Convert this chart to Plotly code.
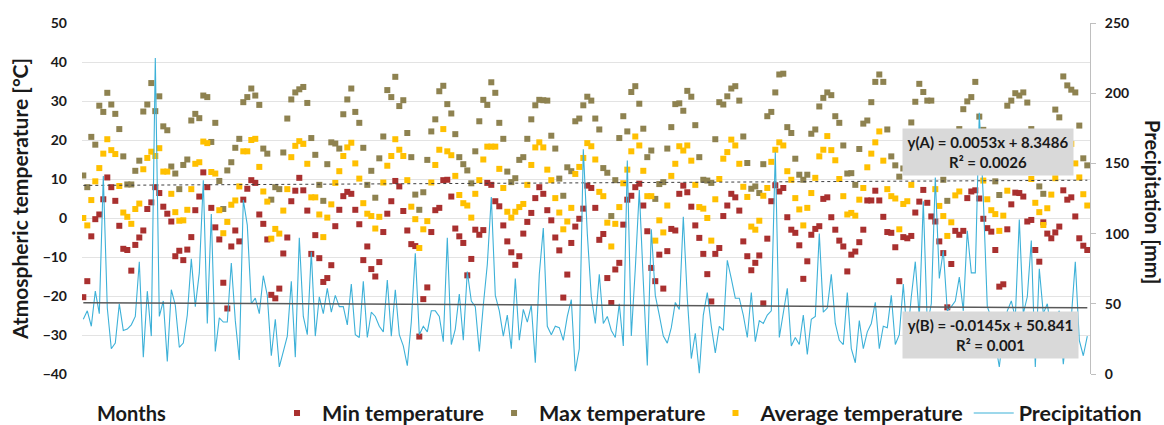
import plotly.graph_objects as go

# ---------------- data ----------------
months = list(range(1, 253))  # 21 years of monthly records

min_temp = [
    -20.3, -16.2, -4.7, -0.3, 0.9, 4.8, 10.4, 7.9, 4.4, -2.0, -7.9, -8.2,
    -13.5, -6.9, -5.0, -3.2, 2.3, 4.0, 7.9, 6.4, 2.9, 1.1, -0.9, -9.8,
    -8.4, -10.8, -8.1, -4.9, 2.0, 5.5, 11.7, 7.9, 2.6, -2.4, -5.5, -16.6,
    -23.2, -7.3, -3.2, -6.0, 4.7, 7.5, 9.7, 9.0, 0.9, -1.5, -5.5, -19.7,
    -20.6, -18.1, -9.1, -5.0, 4.3, 7.0, 10.3, 7.1, 1.9, -9.2, -4.4, -10.3,
    -16.4, -15.4, -12.1, -2.1, 2.1, 5.6, 6.7, 6.2, 2.1, -1.6, -10.8, -7.3,
    -13.1, -15.0, -11.3, -3.6, 1.1, 4.3, 9.5, 8.1, 1.8, -3.2, -6.7, -7.2,
    -30.4, -20.8, -17.8, -3.6, 2.0, 2.6, 9.7, 9.8, 5.5, -2.7, -4.7, -6.4,
    -14.7, -10.5, -3.0, -4.3, -3.1, 9.0, 8.5, 4.3, 3.0, -1.9, -6.0, -8.8,
    -12.0, -9.8, -4.0, -1.0, 1.3, 5.1, 7.9, 6.2, 2.0, -0.6, -5.0, -8.3,
    -20.4, -14.5, -6.4, -2.2, -0.2, 2.4, 8.3, 7.7, 2.6, -5.6, -4.1, -15.4,
    -21.8, -13.2, -11.5, -1.7, 4.7, 5.7, 7.9, 8.8, 3.2, -3.4, -12.8, -16.2,
    -9.4, -18.1, -8.5, -2.8, -3.2, 6.2, 8.3, 6.6, 2.9, -1.9, -5.1, -9.2,
    -14.4, -21.4, -9.2, -7.7, 0.5, 3.2, 6.2, 5.3, 1.9, -6.0, -9.8, -13.4,
    -11.5, -9.6, -21.9, -5.3, 4.3, 8.4, 6.8, 7.7, 0.2, -3.0, -3.8, -7.0,
    -15.6, -11.1, -4.3, -2.8, -2.1, 4.9, 5.3, 0.2, -3.0, -5.8, -7.3, -13.7,
    -9.4, -8.6, -6.2, -3.0, 4.5, 4.5, 7.0, 4.5, 0.3, -3.6, -3.8, -7.5,
    -16.2, -4.9, -5.2, -4.6, 1.4, 4.2, 7.2, 3.9, 0.4, -0.9, -6.0, -9.0,
    -22.9, -11.8, -3.3, -4.3, -3.3, 5.1, 6.8, 7.1, 5.0, -0.2, -2.6, -3.5,
    -8.2, -17.6, -17.0, -2.9, 3.5, 6.5, 6.4, 5.5, -0.9, -0.5, -8.2, -11.2,
    -1.1, -4.0, -5.2, -3.7, -2.2, 7.1, 4.7, 5.3, 0.4, -5.2, -7.1, -8.2,
]

max_temp = [
    10.9, 7.9, 20.8, 18.8, 28.8, 27.2, 32.1, 29.1, 26.7, 22.8, 15.8, 8.6,
    8.6, 12.1, 14.7, 27.3, 29.1, 34.6, 27.4, 31.2, 23.5, 22.5, 13.2, 11.4,
    7.4, 13.6, 15.0, 25.0, 26.7, 25.6, 31.4, 31.0, 19.5, 24.4, 9.5, 2.3,
    12.2, 14.3, 18.0, 20.3, 29.7, 31.0, 33.2, 31.4, 29.0, 17.8, 16.5, 4.7,
    7.9, 7.4, 16.8, 25.5, 30.4, 32.2, 33.0, 33.6, 29.5, 20.5, 16.2, 8.5,
    4.4, 13.8, 19.4, 19.1, 17.8, 26.6, 30.4, 33.2, 27.2, 24.4, 18.0, 8.5,
    12.1, 5.2, 15.3, 20.9, 32.8, 31.0, 36.2, 28.7, 30.2, 21.8, 15.6, 6.0,
    2.1, 6.6, 14.9, 22.2, 25.3, 32.5, 33.9, 29.2, 26.8, 21.5, 15.6, 13.8,
    12.2, 8.9, 17.1, 24.8, 30.3, 29.0, 34.8, 32.1, 24.4, 20.3, 11.9, 9.2,
    10.2, 14.9, 15.6, 20.3, 25.3, 28.9, 30.3, 30.2, 30.1, 21.1, 17.8, 10.1,
    5.7, 13.0, 12.0, 24.8, 25.5, 28.9, 31.1, 30.1, 25.5, 22.7, 12.8, 11.6,
    0.5, 9.7, 20.5, 26.1, 22.2, 32.3, 33.8, 29.3, 22.9, 15.6, 17.3, 4.9,
    8.7, 9.2, 17.8, 23.3, 29.2, 29.4, 27.5, 32.6, 31.1, 23.8, 15.6, 9.8,
    9.6, 9.0, 20.2, 29.7, 29.1, 31.2, 33.2, 33.8, 30.1, 20.9, 14.1, 7.5,
    8.1, 6.4, 13.8, 26.1, 27.2, 32.2, 36.8, 37.0, 23.3, 21.8, 15.2, 11.1,
    9.8, 11.1, 21.6, 22.7, 28.6, 30.8, 32.2, 31.5, 26.1, 24.4, 18.6, 11.4,
    11.5, 8.5, 17.7, 24.2, 25.0, 29.7, 34.9, 36.8, 34.9, 22.7, 15.8, 13.5,
    10.6, 12.7, 18.0, 24.5, 29.8, 34.4, 32.3, 30.1, 30.1, 20.0, 15.0, 9.8,
    4.4, 12.0, 17.0, 22.8, 27.9, 29.9, 31.0, 34.9, 26.0, 22.6, 18.0, 14.0,
    9.4, 5.9, 18.0, 28.8, 30.1, 32.0, 31.4, 32.2, 29.6, 22.8, 17.0, 8.1,
    6.2, 14.0, 19.0, 27.8, 25.8, 36.3, 34.0, 32.9, 32.2, 23.7, 15.3, 13.5,
]

avg_temp = [
    0.0, -1.9, 4.6, 9.4, 12.8, 16.5, 20.2, 17.4, 16.4, 8.2, 1.4, 0.3,
    -1.5, 2.3, 3.7, 12.5, 15.4, 17.0, 15.9, 17.9, 11.9, 11.9, 6.2, 1.5,
    -0.7, -0.6, 2.1, 7.4, 13.9, 14.3, 19.6, 19.2, 11.8, 11.4, 2.0, -3.9,
    -1.0, 3.4, 4.5, 8.1, 17.1, 17.1, 20.0, 20.3, 13.1, 6.8, 4.2, -5.3,
    -2.8, -4.0, 1.9, 7.4, 15.6, 18.5, 19.7, 19.0, 13.9, 5.3, 5.3, 0.9,
    -4.9, 0.1, 3.5, 9.0, 12.0, 15.9, 18.1, 19.3, 14.0, 10.1, 3.8, 1.1,
    0.5, -2.7, 0.3, 9.1, 13.4, 15.9, 20.2, 17.5, 15.9, 9.7, 2.9, -0.3,
    -7.7, -2.9, -0.8, 9.1, 13.6, 17.5, 22.8, 17.1, 16.1, 10.8, 5.9, 3.8,
    3.2, 0.1, 6.2, 9.7, 15.0, 18.3, 18.3, 18.3, 12.6, 7.7, 1.6, 0.1,
    1.6, 2.8, 3.6, 8.5, 13.6, 18.1, 19.4, 18.1, 12.4, 9.7, 5.1, 1.4,
    -2.9, -0.9, 2.6, 11.3, 13.1, 15.4, 19.2, 18.4, 15.0, 6.7, 5.6, -1.2,
    -7.3, -1.5, 2.8, 8.9, 12.4, 17.1, 20.9, 18.6, 12.1, 5.6, 5.6, -5.8,
    -0.6, -3.7, 3.2, 10.8, 13.9, 18.4, 17.3, 18.6, 14.7, 8.5, 2.8, 2.4,
    0.0, -5.8, 4.8, 10.0, 15.2, 16.9, 20.1, 18.6, 13.9, 8.0, 5.4, -2.2,
    -3.0, -0.7, 5.7, 7.7, 14.4, 17.5, 19.4, 18.6, 12.0, 9.8, 5.1, 2.2,
    -1.9, 2.6, 6.4, 10.3, 15.8, 17.5, 21.0, 17.4, 14.8, 10.0, 5.6, 0.9,
    1.3, 0.6, 4.7, 7.7, 13.0, 16.5, 19.4, 22.2, 14.7, 7.4, 5.6, 5.0,
    -2.9, 3.6, 4.3, 8.5, 13.0, 17.0, 19.0, 18.0, 14.0, 7.4, 3.1, 0.5,
    -4.6, -1.1, 5.8, 6.8, 13.0, 16.0, 19.0, 18.0, 15.0, 9.6, 4.8, 2.0,
    1.0, -3.3, 0.6, 7.0, 12.0, 15.0, 18.0, 17.0, 14.0, 10.0, 3.9, 1.5,
    -1.8, 2.5, 6.0, 10.2, 14.0, 20.0, 22.0, 19.0, 14.0, 10.4, 6.1, 3.2,
]

precip = [
    39, 45, 34, 59, 43, 141, 47, 18, 22, 50, 31, 32,
    35, 41, 80, 12, 59, 27, 225, 41, 52, 9, 60, 49,
    19, 22, 42, 82, 48, 72, 138, 36, 114, 16, 40, 37,
    37, 79, 38, 10, 124, 106, 50, 54, 43, 70, 56, 13,
    39, 5, 16, 27, 66, 12, 97, 41, 28, 87, 27, 55,
    43, 61, 44, 56, 48, 48, 35, 64, 28, 26, 66, 26,
    44, 41, 34, 30, 67, 27, 60, 28, 20, 6, 37, 86,
    28, 34, 30, 45, 45, 41, 23, 97, 21, 32, 57, 24,
    73, 52, 48, 16, 49, 78, 126, 56, 45, 27, 42, 18,
    68, 24, 46, 37, 49, 8, 71, 104, 34, 28, 34, 33,
    24, 41, 53, 2, 18, 160, 100, 55, 36, 71, 36, 41,
    31, 26, 50, 20, 152, 27, 75, 131, 66, 6, 103, 56,
    42, 27, 22, 33, 51, 46, 112, 54, 11, 29, 0.5, 42,
    58, 34, 15, 34, 31, 81, 68, 54, 54, 42, 26, 58,
    23, 38, 36, 42, 45, 158, 26, 42, 61, 20, 26, 21,
    42, 14, 39, 41, 100, 44, 47, 71, 36, 24, 21, 58,
    18, 8, 38, 18, 30, 36, 51, 18, 34, 33, 56, 21,
    28, 64, 25, 55, 80, 40, 123, 35, 50, 140, 68, 88,
    45, 48, 52, 69, 45, 102, 72, 72, 186, 125, 48, 40,
    24, 5, 30, 45, 52, 40, 110, 43, 55, 95, 5, 75,
    43, 50, 30, 40, 45, 7, 35, 40, 80, 24, 13, 27,
]

# linear trend lines as printed on the chart (slope, intercept)
trend_a_slope, trend_a_intercept = 0.0053, 8.3486
trend_b_slope, trend_b_intercept = -0.0145, 50.841
trend_a_label = "y(A) = 0.0053x + 8.3486<br>R² = 0.0026"
trend_b_label = "y(B) = -0.0145x + 50.841<br>R² = 0.001"

temp_range = [-40, 50]
precip_range = [0, 250]

# ---------------- figure ----------------
FONT = "Lato, 'Open Sans', Arial, sans-serif"
TXT = "#1a1a1a"

fig = go.Figure()

fig.add_trace(go.Scatter(
    x=months, y=min_temp, mode="markers", name="Min temperature",
    marker=dict(symbol="square", size=6, color="#A9302F", line=dict(width=0)),
    hoverinfo="skip"))
fig.add_trace(go.Scatter(
    x=months, y=max_temp, mode="markers", name="Max temperature",
    marker=dict(symbol="square", size=6, color="#8E8250", line=dict(width=0)),
    hoverinfo="skip"))
fig.add_trace(go.Scatter(
    x=months, y=avg_temp, mode="markers", name="Average temperature",
    marker=dict(symbol="square", size=6, color="#FFC000", line=dict(width=0)),
    hoverinfo="skip"))

x_ends = [months[0], months[-1]]
fig.add_trace(go.Scatter(
    x=x_ends, y=[trend_a_slope * x + trend_a_intercept for x in x_ends],
    mode="lines", line=dict(color="#404040", width=1, dash="dot"),
    showlegend=False, hoverinfo="skip"))

fig.add_trace(go.Scatter(
    x=months, y=precip, mode="lines", name="Precipitation", yaxis="y2",
    line=dict(color="#3DB1D8", width=1.1), hoverinfo="skip"))
fig.add_trace(go.Scatter(
    x=x_ends, y=[trend_b_slope * x + trend_b_intercept for x in x_ends],
    mode="lines", yaxis="y2", line=dict(color="#595959", width=1.5),
    showlegend=False, hoverinfo="skip"))

fig.update_layout(
    width=1164, height=425,
    margin=dict(l=82, r=74, t=23, b=51, autoexpand=False),
    paper_bgcolor="white", plot_bgcolor="white",
    font=dict(family=FONT, color=TXT),
    xaxis=dict(range=[0.675, 252.675], showgrid=False, zeroline=False,
               showline=False, showticklabels=False, ticks="", automargin=False),
    yaxis=dict(range=temp_range, dtick=10, showgrid=True, gridcolor="#E3E3E3",
               gridwidth=1, zeroline=False, showline=False, ticks="",
               ticklabelstandoff=14, automargin=False,
               tickfont=dict(family=FONT, size=14, color=TXT, weight="bold"),
               title=dict(text="Atmospheric temperature [°C]", standoff=8,
                          font=dict(family=FONT, size=21, color=TXT, weight="bold"))),
    yaxis2=dict(range=precip_range, dtick=50, overlaying="y", side="right",
                showgrid=False, zeroline=False, showline=True, linecolor="#BFBFBF",
                linewidth=1, ticks="outside", ticklen=5, tickcolor="#BFBFBF",
                ticklabelstandoff=6, automargin=False,
                tickfont=dict(family=FONT, size=14, color=TXT, weight="bold")),
    legend=dict(orientation="h", x=0.1885, xanchor="left", y=-0.111, yanchor="middle",
                itemwidth=40,
                font=dict(family=FONT, size=21.5, color=TXT, weight="bold"),
                bgcolor="rgba(0,0,0,0)", traceorder="normal"),
    showlegend=True,
)

fig.add_annotation(
    text="Precipitation [mm]", xref="paper", yref="paper",
    x=1.0625, y=0.49, xanchor="center", yanchor="middle", textangle=90,
    showarrow=False, font=dict(family=FONT, size=20, color=TXT, weight="bold"))

fig.add_annotation(
    text="Months", xref="paper", yref="paper", x=0.0125, y=-0.111,
    xanchor="left", yanchor="middle", showarrow=False,
    font=dict(family=FONT, size=20, color=TXT, weight="bold"))

fig.add_annotation(
    text=trend_a_label, xref="paper", yref="paper", x=0.899, y=0.6325,
    xanchor="center", yanchor="middle", showarrow=False, align="center",
    bgcolor="#D9D9D9", borderpad=4, width=162, height=38,
    font=dict(family=FONT, size=15, color=TXT, weight="bold"))

fig.add_annotation(
    text=trend_b_label, xref="paper", yref="paper", x=0.901, y=0.111,
    xanchor="center", yanchor="middle", showarrow=False, align="center",
    bgcolor="#D9D9D9", borderpad=4, width=167, height=38,
    font=dict(family=FONT, size=15, color=TXT, weight="bold"))

fig.write_html("out.html", config={"displayModeBar": False},
               post_script="document.body.style.margin='0';")
